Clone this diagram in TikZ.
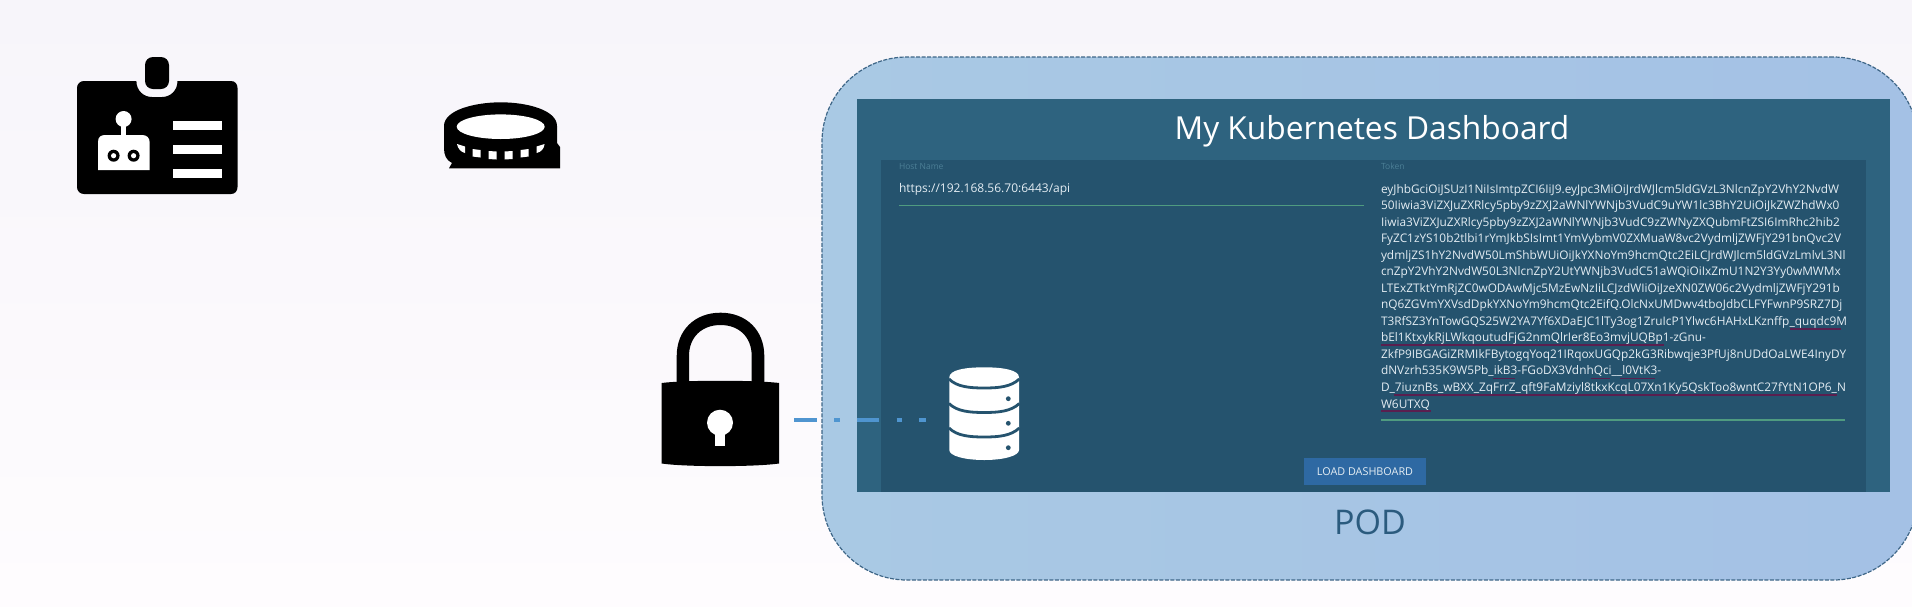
\documentclass[tikz,border=0pt]{standalone}
\usepackage{fontspec}
\setmainfont{Open Sans}
\definecolor{bgtop}{HTML}{F7F5FA}
\definecolor{bgmid}{HTML}{FDFBFE}
\definecolor{bgbot}{HTML}{FEFCFE}
\definecolor{podedge}{HTML}{3E6687}
\definecolor{podleft}{HTML}{A9C9E4}
\definecolor{podright}{HTML}{A4C1E5}
\definecolor{dashouter}{HTML}{2E637F}
\definecolor{dashinner}{HTML}{25536E}
\definecolor{btnblue}{HTML}{2E69A3}
\definecolor{flowblue}{HTML}{4F95D0}
\definecolor{txtlight}{HTML}{E4EDF3}
\definecolor{lblfaint}{HTML}{4C7F96}
\definecolor{fieldgreen}{HTML}{4F9B80}
\definecolor{squiggle}{HTML}{5A1F4F}
\definecolor{podtext}{HTML}{2B5B7E}
\tikzset{
  podbox/.style={draw=podedge,line width=1.2pt,dash pattern=on 4pt off 1.5pt,rounded corners=85pt,left color=podleft,right color=podright,inner sep=0pt},
  panelbox/.style={fill=#1,draw=none,inner sep=0pt,outer sep=0pt},
  lbl/.style={inner sep=0pt,outer sep=0pt,anchor=west},
  fieldline/.style={draw=fieldgreen,line width=1.5pt},
  squig/.style={draw=squiggle,line width=1.2pt},
  glyph/.style={fill=black,draw=none},
  hole/.style={fill=#1,draw=none},
  hole/.default=white,
  flow/.style={draw=flowblue,line width=4.5pt,dash pattern=on 22.4pt off 17.3pt on 5.7pt off 17.1pt}
}
\begin{document}
\begin{tikzpicture}[x=1pt,y=-1pt]
\useasboundingbox (0,0) rectangle (1912,606);
\shade[top color=bgtop,middle color=bgmid,bottom color=bgbot] (0,0) rectangle (1912,606);

% Pod
\node[podbox,minimum width=1096pt,minimum height=523pt] (pod) at (1370,318.5) {};
\node[panelbox=dashouter,minimum width=1033pt,minimum height=393pt] (dashboard) at (1373.5,295.5) {};
\node[panelbox=dashinner,minimum width=985pt,minimum height=332pt] (panel) at (1373.5,326) {};
\node[lbl,anchor=center,text=white,font=\fontsize{31.7}{38}\selectfont] (title) at (1372,131) {My Kubernetes Dashboard};
\node[lbl,text=lblfaint,font=\fontsize{8.5}{10}\selectfont] (hostlabel) at (899,166.5) {Host Name};
\node[lbl,text=txtlight,font=\fontsize{12}{14}\selectfont] (hostval) at (899,189.5) {https://192.168.56.70:6443/api};
\coordinate (hostL) at (899,205.7);
\coordinate (hostR) at (1364,205.7);
\draw[fieldline] (hostL) -- (hostR);
\node[lbl,text=lblfaint,font=\fontsize{8.5}{10}\selectfont] (toklabel) at (1381,166) {Token};
\node[inner sep=0pt,outer sep=0pt,anchor=north west,align=left,text=txtlight,font=\fontsize{11.85}{16.54}\selectfont] (token) at (1381,184) {%
eyJhbGciOiJSUzI1NiIsImtpZCI6IiJ9.eyJpc3MiOiJrdWJlcm5ldGVzL3NlcnZpY2VhY2NvdW\\
50Iiwia3ViZXJuZXRlcy5pby9zZXJ2aWNlYWNjb3VudC9uYW1lc3BhY2UiOiJkZWZhdWx0\\
Iiwia3ViZXJuZXRlcy5pby9zZXJ2aWNlYWNjb3VudC9zZWNyZXQubmFtZSI6ImRhc2hib2\\
FyZC1zYS10b2tlbi1rYmJkbSIsImt1YmVybmV0ZXMuaW8vc2VydmljZWFjY291bnQvc2V\\
ydmljZS1hY2NvdW50LmShbWUiOiJkYXNoYm9hcmQtc2EiLCJrdWJlcm5ldGVzLmlvL3Nl\\
cnZpY2VhY2NvdW50L3NlcnZpY2UtYWNjb3VudC51aWQiOiIxZmU1N2Y3Yy0wMWMx\\
LTExZTktYmRjZC0wODAwMjc5MzEwNzIiLCJzdWIiOiJzeXN0ZW06c2VydmljZWFjY291b\\
nQ6ZGVmYXVsdDpkYXNoYm9hcmQtc2EifQ.OlcNxUMDwv4tboJdbCLFYFwnP9SRZ7Dj\\
T3RfSZ3YnTowGQS25W2YA7Yf6XDaEJC1lTy3og1ZruIcP1Ylwc6HAHxLKznffp\_quqdc9M\\
bEl1KtxykRjLWkqoutudFjG2nmQlrIer8Eo3mvjUQBp1-zGnu-\\
ZkfP9IBGAGiZRMIkFBytogqYoq21IRqoxUGQp2kG3Ribwqje3PfUj8nUDdOaLWE4InyDY\\
dNVzrh535K9W5Pb\_ikB3-FGoDX3VdnhQci\_\_l0VtK3-\\
D\_7iuznBs\_wBXX\_ZqFrrZ\_qft9FaMziyl8tkxKcqL07Xn1Ky5QskToo8wntC27fYtN1OP6\_N\\
W6UTXQ};
\draw[squig] (1790,329) -- (1841,329);
\draw[squig] (1381,345) -- (1664,345);
\draw[squig] (1493,378.5) -- (1515,378.5);
\draw[squig] (1591,378.5) -- (1610,378.5);
\draw[squig] (1620,378.5) -- (1655,378.5);
\draw[squig] (1394,395) -- (1837,395);
\draw[squig] (1381,411) -- (1431,411);
\coordinate (tokL) at (1381,420);
\coordinate (tokR) at (1845,420);
\draw[fieldline] (tokL) -- (tokR);
\node[panelbox=btnblue,minimum width=122pt,minimum height=27pt] (btn) at (1365,471.5) {};
\node[text=txtlight,inner sep=0pt,font=\fontsize{10.8}{13}\selectfont] (btntext) at (btn.center) {LOAD DASHBOARD};
\node[inner sep=0pt,text=podtext,font=\fontsize{34}{40}\selectfont] (podlabel) at (1370,522.5) {POD};

% ID badge
\fill[glyph] (84,81) -- (136.4,81) .. controls (136.4,91) and (144,97) .. (152,97) -- (162,97) .. controls (170,97) and (177.5,91) .. (177.5,81) -- (231,81) .. controls (235,81) and (237.5,84) .. (237.5,88) -- (237.5,187) .. controls (237.5,191) and (235,194) .. (231,194) -- (84,194) .. controls (80,194) and (77,191) .. (77,187) -- (77,88) .. controls (77,84) and (80,81) .. (84,81) -- cycle;
\fill[glyph,rounded corners=8pt] (145,57) rectangle (169,89);
\fill[hole] (123.6,119) circle (8);
\fill[hole] (121,119) rectangle (126.2,137);
\fill[hole] (98,170) -- (98,142) .. controls (98,137) and (101,135) .. (105,135) -- (142,135) .. controls (147,135) and (149.6,138) .. (149.6,142) -- (149.6,170) -- cycle;
\foreach \ex in {113.6,133.6}{
  \fill[glyph] (\ex,155.7) circle (6);
  \fill[hole] (\ex,155.7) circle (2.6);
}
\foreach \by in {120.7,145.3,169.3}{
  \fill[hole] (173,\by) rectangle (222,\by+9);
}

% Coin
\fill[glyph] (449,168.3) -- (452,163) .. controls (446,160) and (444,155) .. (444,148) -- (444,126) .. controls (444,110) and (475,102.3) .. (500.7,102.3) .. controls (527,102.3) and (557,110) .. (557,126) -- (557,143) -- (560,147) -- (560,168.3) -- cycle;
\fill[hole] (500.7,126.7) ellipse [x radius=44,y radius=12.3];
\fill[hole] (472.5,149) -- (480.5,150) -- (480.5,157.5) -- (472.5,156.5) -- cycle;
\fill[hole] (488.5,151) -- (496.5,151.5) -- (496.5,159.5) -- (488.5,159) -- cycle;
\fill[hole] (504.6,151.5) -- (512.6,151) -- (512.6,159) -- (504.6,159.5) -- cycle;
\fill[hole] (520.6,150) -- (528.6,149) -- (528.6,156.5) -- (520.6,157.5) -- cycle;
\fill[hole] (457,144) -- (465,146.5) -- (465,153) .. controls (461,152) and (458,149) .. (457,144) -- cycle;
\fill[hole] (544.6,144) -- (536.6,146.5) -- (536.6,153) .. controls (541,152) and (544,149) .. (544.6,144) -- cycle;

% Lock
\fill[glyph,even odd rule] (676.7,385) -- (676.7,356) .. controls (676.7,330) and (695,312.7) .. (720.5,312.7) .. controls (746,312.7) and (764.3,330) .. (764.3,356) -- (764.3,385) -- (751.7,385) -- (751.7,356) .. controls (751.7,337) and (739,325) .. (720.5,325) .. controls (702,325) and (689,337) .. (689,356) -- (689,385) -- cycle;
\fill[glyph] (661.7,383) .. controls (685,380) and (755,380) .. (779,383) -- (779,463.5) .. controls (755,467) and (685,467) .. (661.7,463.5) -- cycle;
\fill[hole] (720,422.7) circle (13);
\fill[hole] (715,425) rectangle (725,445.7);
\coordinate (lockport) at (794.3,420);

% Database
\fill[hole] (949.3,377.3) .. controls (949.3,370) and (965,367.3) .. (984.3,367.3) .. controls (1003,367.3) and (1019,370) .. (1019,377.3) -- (1019,450) .. controls (1019,456) and (1003,460) .. (984.3,460) .. controls (965,460) and (949.3,456) .. (949.3,450) -- cycle;
\foreach \dy in {379,403.5,428}{
  \draw[dashinner,line width=2.8pt] (949,\dy) .. controls (957,\dy+8) and (970,\dy+9) .. (984.3,\dy+9) .. controls (998,\dy+9) and (1011,\dy+8) .. (1019.3,\dy);
}
\foreach \dy in {398.7,423.3,447.7}{
  \fill[dashinner] (1008.3,\dy) circle (2.4);
}
\coordinate (dbport) at (926,420);

% Connector
\draw[flow] (lockport) -- (dbport);
\end{tikzpicture}
\end{document}
